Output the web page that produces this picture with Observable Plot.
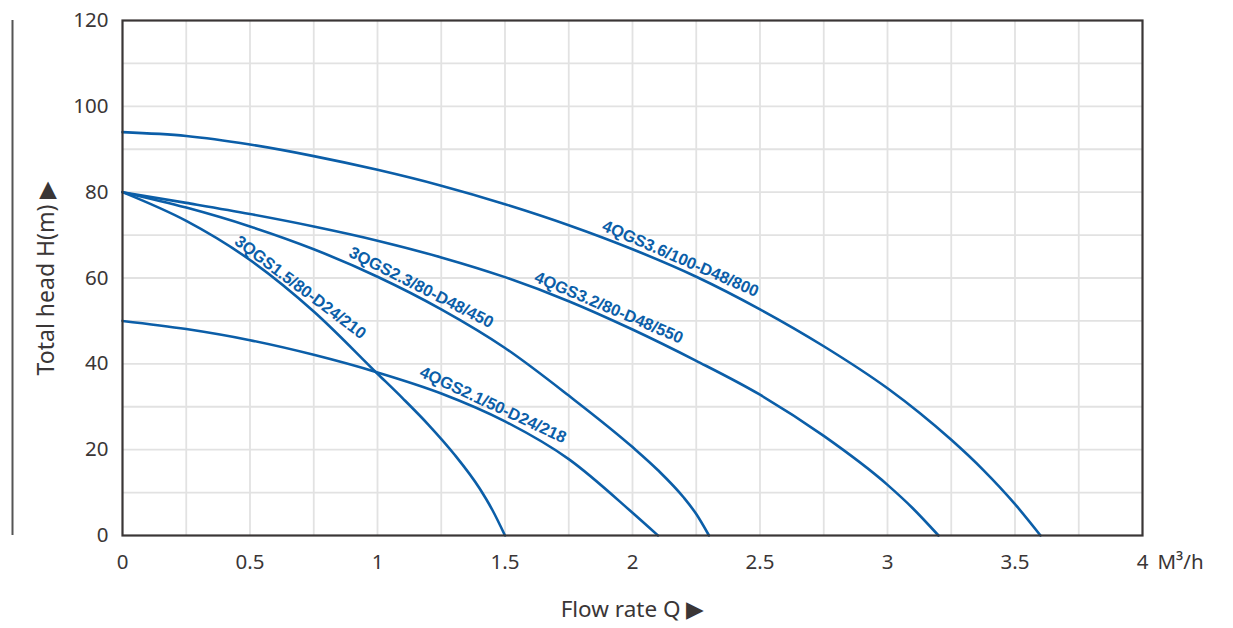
<!DOCTYPE html>
<html><head><meta charset="utf-8">
<script src="https://cdn.jsdelivr.net/npm/d3@7"></script>
<script src="https://cdn.jsdelivr.net/npm/@observablehq/plot@0.6"></script>
<style>body{margin:0;background:#fff;}#chart svg{display:block;}</style>
</head><body><div id="chart"></div>
<script>
// Axis ticks and grid
const xTicks = [0, 0.5, 1, 1.5, 2, 2.5, 3, 3.5, 4];
const xGrid = [0.25, 0.5, 0.75, 1, 1.25, 1.5, 1.75, 2, 2.25, 2.5, 2.75, 3, 3.25, 3.5, 3.75];
const yTicks = [0, 20, 40, 60, 80, 100, 120];
const yGrid = [10, 20, 30, 40, 50, 60, 70, 80, 90, 100, 110];

// Series names
const names = ["4QGS3.6/100-D48/800", "4QGS3.2/80-D48/550", "3QGS2.3/80-D48/450", "3QGS1.5/80-D24/210", "4QGS2.1/50-D24/218"];

// Flow rate Q (m3/h) and head H (m) per series
const q1 = [0, 0.25, 0.5, 0.75, 1.0, 1.25, 1.5, 1.75, 2.0, 2.25, 2.5, 2.75, 3.0, 3.125, 3.25, 3.375, 3.5, 3.6];
const h1 = [94, 93.1, 91.1, 88.4, 85.2, 81.5, 77.2, 72.3, 66.7, 60.3, 52.7, 44.1, 34.3, 28.6, 22.3, 15.3, 7.3, 0];

const q2 = [0, 0.25, 0.5, 0.75, 1.0, 1.25, 1.5, 1.75, 2.0, 2.25, 2.5, 2.75, 3.0, 3.1, 3.2];
const h2 = [80, 77.5, 74.9, 72.0, 68.7, 64.8, 60.2, 54.6, 48.0, 40.7, 32.8, 23.2, 11.8, 6.3, 0];

const q3 = [0, 0.25, 0.5, 0.75, 1.0, 1.25, 1.5, 1.75, 2.0, 2.1, 2.2, 2.25, 2.3];
const h3 = [80, 76.4, 72.0, 66.7, 60.3, 52.7, 43.7, 32.6, 20.6, 15.2, 8.9, 5.0, 0];

const q4 = [0, 0.25, 0.5, 0.75, 1.0, 1.1, 1.2, 1.3, 1.4, 1.45, 1.5];
const h4 = [80, 73.3, 64.2, 52.2, 37.7, 31.9, 25.8, 19.0, 11.0, 6.0, 0];

const q5 = [0, 0.25, 0.5, 0.75, 1.0, 1.25, 1.5, 1.75, 2.0, 2.1];
const h5 = [50, 48.1, 45.5, 42.1, 38.0, 33.1, 26.6, 17.8, 5.3, 0];

// Curve label positions (flow rate under the centre of each label) and angles
const labelQ = [2.172, 1.891, 1.153, 0.673, 1.436];
const labelAngle = [23.5, 23, 27, 37, 25];

const qs = [q1, q2, q3, q4, q5];
const hs = [h1, h2, h3, h4, h5];
const rows = names.flatMap((n, i) => qs[i].map((q, j) => ({name: n, q, h: hs[i][j]})));
const labels = names.map((n, i) => ({
  name: n, q: labelQ[i], h: d3.scaleLinear(qs[i], hs[i])(labelQ[i]), a: labelAngle[i]
}));

const blue = "#0b5ea8";
const ink = "#3a3636";
const gap = 5;

const chart = Plot.plot({
  width: 1233,
  height: 628,
  marginLeft: 122,
  marginRight: 91,
  marginTop: 20,
  marginBottom: 93,
  style: {fontFamily: "'Noto Sans', sans-serif", background: "#fff", overflow: "visible"},
  x: {domain: [0, 4], ticks: xTicks, label: null},
  y: {domain: [0, 120], ticks: yTicks, label: null},
  marks: [
    Plot.ruleX(xGrid, {stroke: "#e2e2e2", strokeWidth: 1.8}),
    Plot.ruleY(yGrid, {stroke: "#e2e2e2", strokeWidth: 1.8}),
    Plot.line(rows, {x: "q", y: "h", z: "name", stroke: blue, strokeWidth: 2.6, curve: "monotone-x"}),
    ...labels.map(l => Plot.text([l], {x: "q", y: "h", text: "name", rotate: l.a, fill: blue, fontSize: 16.5, fontWeight: "bold",
      fontFamily: "'Liberation Sans', Arial, sans-serif", textAnchor: "middle", lineAnchor: "bottom",
      dx: gap * Math.sin(l.a * Math.PI / 180), dy: -gap * Math.cos(l.a * Math.PI / 180)})),
    Plot.frame({stroke: ink, strokeWidth: 2.2}),
    Plot.axisX(xTicks, {tickSize: 0, tickPadding: 19, fontSize: 20.5, fill: ink, label: null, tickFormat: d => String(d)}),
    Plot.axisY(yTicks, {tickSize: 0, tickPadding: 14, fontSize: 20.5, fill: ink, label: null}),
    Plot.text(["M³/h"], {x: () => 4, y: () => 0, dx: 15, dy: 27, textAnchor: "start", fontSize: 20.5, fill: ink}),
    Plot.text(["Flow rate Q ▶"], {frameAnchor: "bottom", textAnchor: "middle", dy: 81, fontSize: 22.5, fill: ink}),
    Plot.text(["Total head H(m) ▶"], {frameAnchor: "left", textAnchor: "middle", dx: -76, rotate: -90, fontSize: 23, fill: ink}),
    Plot.ruleX([0], {dx: -110, stroke: "#555", strokeWidth: 2})
  ]
});
document.getElementById("chart").append(chart);
</script>
</body></html>
